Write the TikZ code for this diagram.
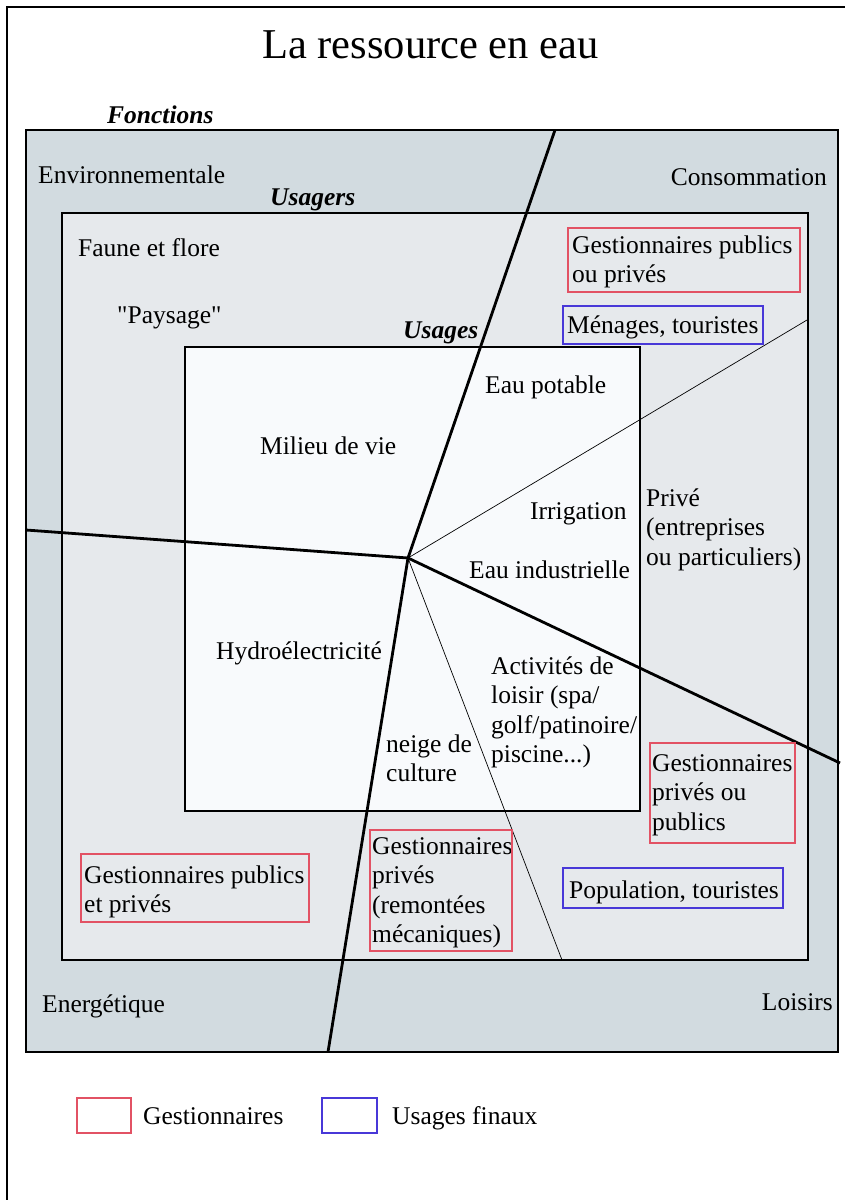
\documentclass[tikz,border=0pt]{standalone}
\usepackage{fontspec}
\setmainfont{Liberation Serif}
\newfontfamily\straightquotes{Liberation Serif}[Ligatures=TeXOff]
\definecolor{greyzone}{RGB}{210,219,224}
\definecolor{usagerszone}{RGB}{230,233,236}
\definecolor{usageszone}{RGB}{248,250,252}
\definecolor{gestred}{RGB}{226,82,100}
\definecolor{finblue}{RGB}{72,56,216}
\newcommand{\bodyfont}{\fontsize{25.5}{29.5}\selectfont}
\newcommand{\mylines}[1]{\begin{tabular}[t]{@{}l@{}}#1\end{tabular}}
\tikzset{
  frame/.style={draw=black,line width=2.6pt},
  thickline/.style={draw=black,line width=2.8pt},
  thinline/.style={draw=black,line width=0.7pt},
  redbox/.style={draw=gestred,line width=2.2pt},
  bluebox/.style={draw=finblue,line width=2.2pt},
  lbl/.style={inner sep=0pt,font=\bodyfont,anchor=base west},
  lble/.style={inner sep=0pt,font=\bodyfont,anchor=base east},
  head/.style={inner sep=0pt,font=\bodyfont\bfseries\itshape,anchor=base west},
}
\begin{document}
\begin{tikzpicture}[x=1pt,y=-1pt]
\useasboundingbox (0,0) rectangle (844,1200);
\fill[white] (0,0) rectangle (844,1200);
% outer frame (only left and top visible)
\draw[frame,line cap=rect] (7,1200) -- (7,7) -- (844,7);
% zones
\filldraw[fill=greyzone,frame] (26,130) rectangle (838,1052);
\filldraw[fill=usagerszone,frame] (62,213) rectangle (808,960);
\filldraw[fill=usageszone,frame] (185,347) rectangle (640,811);
% partition lines
\coordinate (c) at (408,558);
\coordinate (ptop) at (555,130);
\coordinate (pbot) at (328,1052);
\coordinate (pleft) at (26,530);
\coordinate (pright) at (840,763);
\coordinate (pthinup) at (807,320);
\coordinate (pthindown) at (562,960);
\draw[thickline] (c) -- (ptop);
\draw[thickline] (c) -- (pbot);
\draw[thickline] (c) -- (pleft);
\draw[thickline] (c) -- (pright);
\draw[thinline] (c) -- (pthinup);
\draw[thinline] (c) -- (pthindown);
% title
\node[inner sep=0pt,font=\fontsize{42.5}{50}\selectfont,anchor=base west] (title) at (262,58) {La ressource en eau};
% headings
\node[head] (fonctions) at (107,123) {Fonctions};
\node[head] (usagers) at (270,205) {Usagers};
\node[head] (usages) at (403,338) {Usages};
% functions
\node[lbl] (envir) at (38,183) {Environnementale};
\node[lble] (conso) at (827,185) {Consommation};
\node[lbl] (energ) at (42,1012) {Energétique};
\node[lble] (loisirs) at (833,1010) {Loisirs};
% usagers
\node[lbl] (faune) at (78,256) {Faune et flore};
\node[lbl] (paysage) at (117,323) {\straightquotes "Paysage"};
\node[lbl] (gest1) at (572,253) {\mylines{Gestionnaires publics\\ou privés}};
\node[lbl] (menages) at (567,333) {Ménages, touristes};
\node[lbl] (prive) at (646,506) {\mylines{Privé\\(entreprises\\ou particuliers)}};
\node[lbl] (gest2) at (652,771) {\mylines{Gestionnaires\\privés ou\\publics}};
\node[lbl] (gest3) at (372,854) {\mylines{Gestionnaires\\privés\\(remontées\\mécaniques)}};
\node[lbl] (gest4) at (84,883) {\mylines{Gestionnaires publics\\et privés}};
\node[lbl] (popul) at (569,898) {Population, touristes};
% usages
\node[lbl] (potable) at (485,393) {Eau potable};
\node[lbl] (milieu) at (260,454) {Milieu de vie};
\node[lbl] (irrig) at (530,519) {Irrigation};
\node[lbl] (indus) at (469,578) {Eau industrielle};
\node[lbl] (hydro) at (216,659) {Hydroélectricité};
\node[lbl] (activ) at (491,674) {\mylines{Activités de\\loisir (spa/\\golf/patinoire/\\piscine...)}};
\node[lbl] (neige) at (386,752) {\mylines{neige de\\culture}};
% coloured boxes
\draw[redbox] (568,228) rectangle (800,292);
\draw[bluebox] (563,306) rectangle (763,344);
\draw[redbox] (650,743) rectangle (795,843);
\draw[redbox] (370,830) rectangle (512,951);
\draw[redbox] (81,854) rectangle (309,922);
\draw[bluebox] (563,868) rectangle (783,908);
% legend
\draw[redbox] (77,1098) rectangle (131,1133);
\node[lbl] (leggest) at (143,1124) {Gestionnaires};
\draw[bluebox] (322,1098) rectangle (377,1133);
\node[lbl] (legfin) at (392,1124) {Usages finaux};
\end{tikzpicture}
\end{document}
